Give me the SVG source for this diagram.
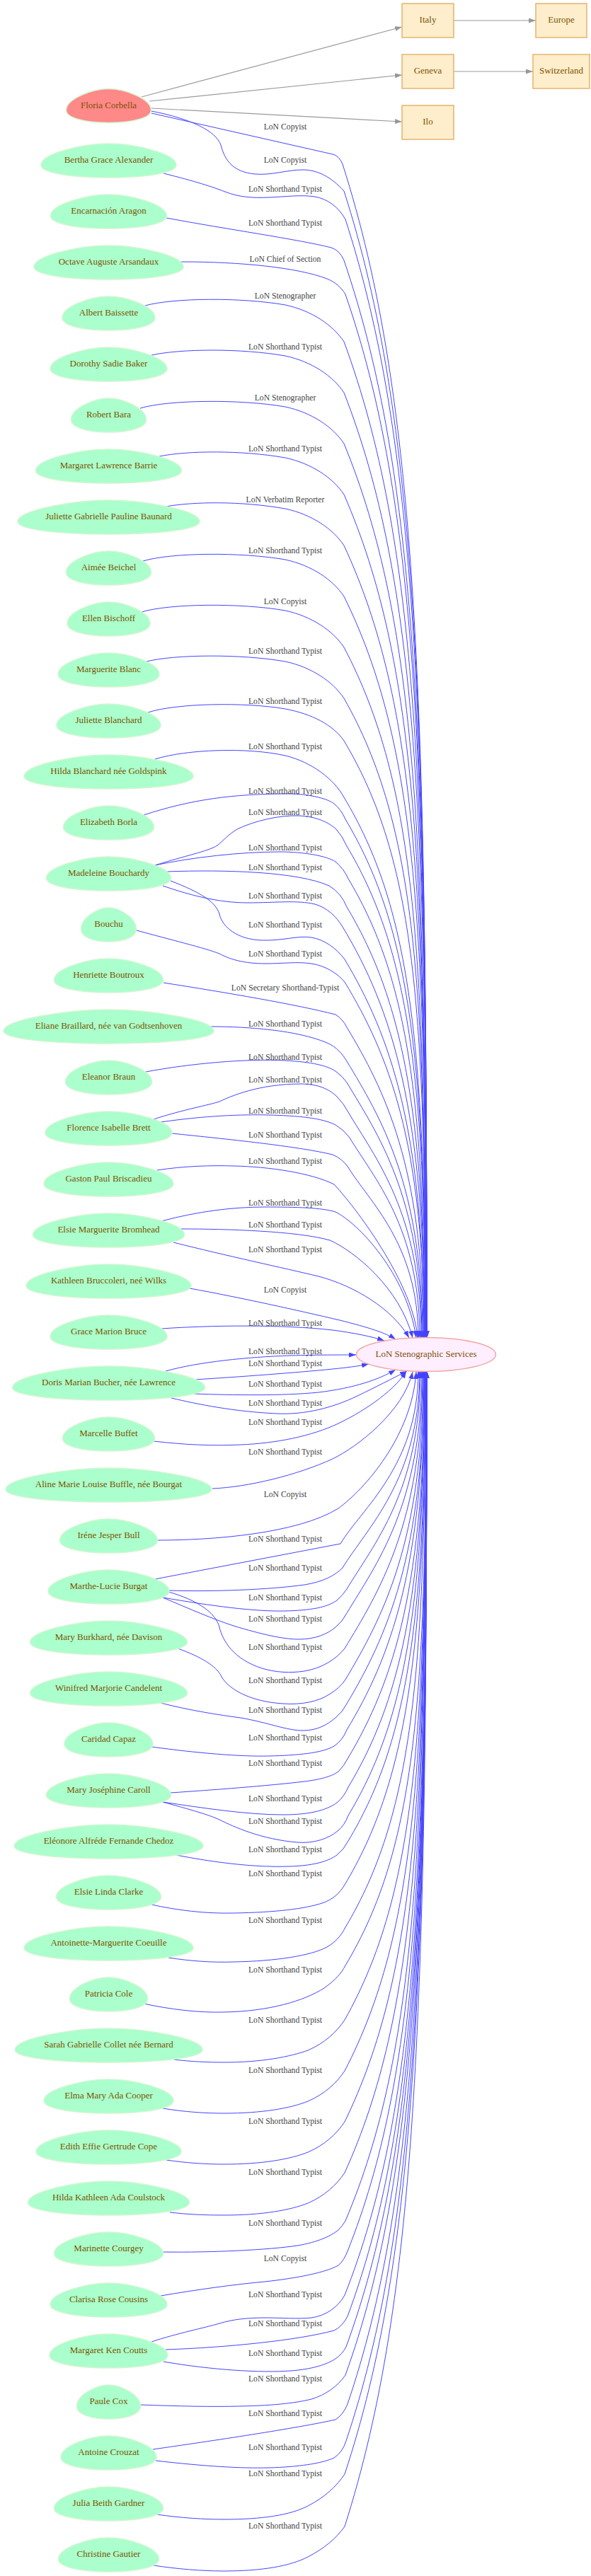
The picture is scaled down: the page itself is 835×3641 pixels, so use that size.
<svg xmlns="http://www.w3.org/2000/svg" xmlns:xlink="http://www.w3.org/1999/xlink" width="835" height="3641" viewBox="0 0 835 3641">
<style>
.egg{fill:#aaffcc;stroke:#d4f5d2;stroke-width:1.5}
.fl{fill:#ff8888}
.nt{font-family:"Liberation Serif","Times New Roman",serif;font-size:13px;fill:#7b5200;text-anchor:middle}
.lb{font-family:"Liberation Serif","Times New Roman",serif;font-size:11.7px;fill:#444444;text-anchor:middle}
.be{fill:none;stroke:#4444ff;stroke-width:1;marker-end:url(#ab)}
.ge{fill:none;stroke:#999999;stroke-width:1.2;marker-end:url(#ag)}
.box{fill:#ffeecc;stroke:#e6b36e;stroke-width:1.5}
</style>
<defs>
<path id="egg" vector-effect="non-scaling-stroke" d="M1,0.26 C1,0.696 0.597,1 0,1 C-0.597,1 -1,0.696 -1,0.26 C-1,-0.42 -0.38,-1 0,-1 C0.38,-1 1,-0.42 1,0.26Z"/>
<marker id="ab" viewBox="0 0 10 7" refX="10" refY="3.5" markerWidth="10" markerHeight="7" markerUnits="userSpaceOnUse" orient="auto"><path d="M0,0L10,3.5L0,7z" fill="#4444ff"/></marker>
<marker id="ag" viewBox="0 0 10 7" refX="10" refY="3.5" markerWidth="10" markerHeight="7" markerUnits="userSpaceOnUse" orient="auto"><path d="M0,0L10,3.5L0,7z" fill="#999999"/></marker>
</defs>
<rect width="835" height="3641" fill="#ffffff"/>
<g id="connectors">
<path class="ge" d="M200,137 L568,38"/>
<path class="ge" d="M211,143 L568,106"/>
<path class="ge" d="M214,153 L568,172"/>
<path class="ge" d="M641,29 L757,29"/>
<path class="ge" d="M641,101 L753,101"/>
<path class="be" d="M214,160 L470,218 Q479,220 484,232 C590,564 603,979 603,1891"/>
<path class="be" d="M214,157 C270,168 305,185 312,205 C318,228 330,243 360,246 C385,248 405,240 428,240 C448,240 468,250 486,270 C590,594 603,999 603,1891"/>
<path class="be" d="M231,245 C275,256 300,264 318,271 C338,279 358,280 380,279 C405,278 425,275 445,278 C462,281 478,292 488,310 C590,626 603,1021 603,1891"/>
<path class="be" d="M235,308 C320,324 420,338 468,350 Q480,354 486,368 C590,673 603,1053 603,1891"/>
<path class="be" d="M256,370 C340,370 420,378 462,394 C474,399 482,406 488,416 C590,711 603,1080 603,1891"/>
<path class="be" d="M205,432 C245,421 340,420 403,431 C440,439 470,459 486,483 C590,765 603,1117 603,1891"/>
<path class="be" d="M214,502 C254,493 340,492 403,503 C440,511 470,531 486,555 C590,822 603,1156 603,1891"/>
<path class="be" d="M198,577 C238,565 340,564 403,575 C440,583 470,603 486,627 C590,880 602,1196 602,1891"/>
<path class="be" d="M225,645 C265,637 340,636 403,647 C440,655 470,675 486,699 C590,937 602,1235 602,1891"/>
<path class="be" d="M234,716 C274,709 340,708 403,719 C440,727 470,747 486,771 C590,995 602,1275 602,1891"/>
<path class="be" d="M202,793 C242,781 340,780 403,791 C440,799 470,819 486,843 C590,1053 602,1315 602,1891"/>
<path class="be" d="M200,865 C240,853 340,852 403,863 C440,871 470,891 486,915 C589,1110 601,1354 601,1891"/>
<path class="be" d="M207,935 C247,925 340,924 403,935 C440,943 470,963 486,987 C589,1168 601,1394 601,1891"/>
<path class="be" d="M209,1007 C249,994 345,992 403,1002 C440,1009 470,1024 486,1047 C587,1216 601,1427 601,1891"/>
<path class="be" d="M219,1073 C264,1059 350,1056 403,1068 C440,1077 472,1101 486,1127 C578,1280 601,1471 601,1891"/>
<path class="be" d="M203,1152 C270,1130 330,1122 406,1122 C440,1122 465,1130 472,1136 Q482,1144 488,1158 C576,1305 601,1488 601,1891"/>
<path class="be" d="M219,1223 C260,1210 295,1203 307,1195 C318,1186 322,1180 335,1172 C360,1160 395,1152 422,1153 C448,1154 465,1163 475,1172 Q484,1182 490,1196 C573,1335 601,1509 601,1891"/>
<path class="be" d="M219,1223 C270,1212 340,1204 395,1204 C430,1204 462,1210 474,1218 Q486,1228 492,1242 C570,1372 600,1534 600,1891"/>
<path class="be" d="M235,1232 C320,1229 420,1232 465,1252 Q482,1262 490,1282 C563,1404 600,1556 600,1891"/>
<path class="be" d="M230,1252 C270,1266 310,1276 350,1276 C390,1276 420,1272 445,1278 C462,1283 475,1295 484,1310 C554,1426 600,1571 600,1891"/>
<path class="be" d="M241,1245 C285,1262 305,1275 310,1292 C314,1310 335,1328 370,1329 C400,1330 420,1322 440,1325 C458,1328 475,1340 487,1356 C551,1463 599,1597 599,1891"/>
<path class="be" d="M193,1315 C240,1328 290,1340 310,1348 C325,1356 345,1362 375,1362 C400,1362 420,1359 440,1362 C460,1365 477,1376 487,1388 C548,1489 599,1614 599,1891"/>
<path class="be" d="M231,1389 C320,1403 420,1420 474,1434 Q484,1440 490,1452 C543,1540 598,1650 598,1891"/>
<path class="be" d="M297,1451 C350,1451 420,1456 462,1474 C476,1480 484,1490 490,1500 C537,1578 597,1676 597,1891"/>
<path class="be" d="M206,1515 C270,1503 350,1496 403,1499 C440,1501 462,1506 474,1514 Q484,1521 490,1530 C533,1602 596,1692 596,1891"/>
<path class="be" d="M217,1582 C260,1568 295,1562 310,1557 C325,1550 365,1532 425,1532 C450,1532 466,1540 476,1550 Q486,1560 492,1572 C530,1636 595,1716 595,1891"/>
<path class="be" d="M227,1586 C290,1577 340,1575 380,1576 C420,1577 455,1580 474,1590 Q486,1597 494,1608 C528,1665 593,1735 593,1891"/>
<path class="be" d="M243,1602 C320,1610 420,1620 470,1632 Q484,1638 492,1650 C521,1698 591,1758 591,1891"/>
<path class="be" d="M222,1654 C260,1648 300,1647 330,1648 C380,1649 440,1658 472,1674 C510,1715 585,1820 590,1891"/>
<path class="be" d="M228,1726 C280,1712 330,1706 374,1706 C420,1706 455,1707 474,1713 C505,1728 575,1800 588,1891"/>
<path class="be" d="M256,1737 C320,1737 420,1740 466,1753 C500,1768 565,1820 583,1891"/>
<path class="be" d="M245,1756 C320,1775 400,1792 450,1804 C500,1817 555,1850 578,1891"/>
<path class="be" d="M268,1821 C340,1834 420,1852 480,1866 C520,1876 545,1884 559,1893"/>
<path class="be" d="M228,1878 C300,1873 400,1872 470,1880 C500,1884 525,1889 543,1895"/>
<path class="be" d="M234,1938 C280,1925 350,1918 410,1916 C450,1915 480,1915 503,1915"/>
<path class="be" d="M275,1950 C340,1946 420,1940 470,1935 C490,1933 506,1931 521,1928"/>
<path class="be" d="M274,1970 C330,1972 400,1973 450,1968 C500,1962 535,1950 559,1936"/>
<path class="be" d="M242,1976 C280,1985 330,1995 390,1998 C430,2000 470,1990 505,1973 C530,1961 555,1948 575,1938"/>
<path class="be" d="M217,2037 C260,2042 300,2044 340,2042 C390,2040 440,2030 478,2012 C520,1992 560,1962 574,1938"/>
<path class="be" d="M300,2104 C350,2102 420,2085 470,2062 C505,2045 570,1995 583,1939"/>
<path class="be" d="M222,2177 C300,2177 420,2168 478,2132 C515,2105 582,2030 588,1939"/>
<path class="be" d="M219,2232 L481,2182 C510,2133 591,2072 591,1938"/>
<path class="be" d="M238,2248 C300,2250 380,2247 430,2240 C455,2236 472,2228 484,2216 C518,2160 593,2091 593,1938"/>
<path class="be" d="M230,2258 C300,2270 360,2278 403,2277 C440,2276 462,2272 476,2262 Q484,2255 490,2246 C527,2184 594,2107 594,1938"/>
<path class="be" d="M230,2258 C270,2275 300,2288 330,2298 C370,2310 400,2317 422,2317 C445,2317 462,2310 474,2300 Q484,2292 490,2280 C531,2212 596,2126 596,1938"/>
<path class="be" d="M238,2250 C280,2262 305,2280 310,2300 C315,2320 330,2345 370,2358 C390,2364 410,2365 430,2362 C455,2358 475,2345 487,2330 C534,2252 597,2154 597,1938"/>
<path class="be" d="M251,2330 C285,2342 305,2355 312,2368 C320,2385 350,2405 400,2408 C425,2410 450,2405 465,2395 Q480,2386 488,2374 C540,2287 598,2178 598,1938"/>
<path class="be" d="M227,2407 C270,2418 310,2424 340,2428 C380,2435 405,2446 428,2446 C448,2446 462,2438 474,2428 Q484,2420 490,2408 C546,2314 599,2197 599,1938"/>
<path class="be" d="M214,2469 C280,2478 340,2483 380,2482 C420,2481 455,2478 472,2468 Q484,2460 490,2445 C551,2344 599,2217 599,1938"/>
<path class="be" d="M241,2534 C300,2530 380,2524 430,2518 C455,2515 470,2510 478,2504 Q486,2496 491,2486 C557,2376 600,2239 600,1938"/>
<path class="be" d="M230,2547 C290,2556 350,2565 400,2565 C440,2565 462,2558 476,2548 Q486,2540 492,2526 C563,2408 600,2261 600,1938"/>
<path class="be" d="M230,2547 C270,2558 295,2565 310,2572 C330,2582 370,2600 420,2604 C445,2606 465,2598 477,2588 Q487,2580 492,2566 C568,2440 600,2283 600,1938"/>
<path class="be" d="M249,2622 C300,2632 360,2640 410,2638 C440,2637 462,2632 476,2622 Q486,2614 492,2602 C572,2469 601,2303 601,1938"/>
<path class="be" d="M214,2692 C250,2700 290,2705 330,2704 C390,2703 430,2698 455,2690 C470,2685 480,2676 487,2664 C574,2519 601,2337 601,1938"/>
<path class="be" d="M238,2767 C270,2772 300,2774 330,2773 C390,2772 440,2764 462,2752 C474,2745 482,2736 488,2724 C582,2567 601,2370 601,1938"/>
<path class="be" d="M203,2832 C240,2840 280,2845 316,2844 C380,2843 430,2828 458,2810 C472,2800 482,2790 488,2778 C589,2610 602,2400 602,1938"/>
<path class="be" d="M246,2911 C270,2914 295,2915 316,2915 C370,2915 410,2907 435,2898 C458,2888 475,2873 487,2855 C590,2672 602,2442 602,1938"/>
<path class="be" d="M230,2980 C260,2985 290,2987 316,2987 C370,2987 410,2980 435,2970 C458,2960 475,2945 487,2927 C590,2729 602,2482 602,1938"/>
<path class="be" d="M235,3053 C262,3057 290,3059 316,3059 C370,3059 410,3052 435,3042 C458,3032 475,3017 487,2999 C590,2787 602,2522 602,1938"/>
<path class="be" d="M240,3127 C265,3130 290,3131 316,3131 C370,3131 410,3124 435,3114 C458,3104 475,3089 487,3071 C590,2844 602,2561 602,1938"/>
<path class="be" d="M231,3183 C300,3184 380,3180 420,3174 C450,3169 468,3160 478,3152 Q484,3146 488,3139 C590,2899 602,2599 602,1938"/>
<path class="be" d="M227,3245 C280,3236 330,3229 374,3225 C420,3220 460,3212 478,3202 Q486,3195 491,3182 C590,2933 603,2622 603,1938"/>
<path class="be" d="M214,3310 C250,3298 290,3290 310,3284 C330,3278 350,3276 375,3276 C400,3276 420,3278 440,3276 C460,3273 477,3262 487,3244 C590,2983 603,2656 603,1938"/>
<path class="be" d="M234,3321 C320,3318 420,3308 472,3294 Q484,3288 491,3274 C590,3007 603,2673 603,1938"/>
<path class="be" d="M231,3338 C300,3350 370,3354 410,3351 C440,3349 462,3342 474,3334 Q484,3327 489,3317 C590,3041 603,2696 603,1938"/>
<path class="be" d="M199,3399 C250,3401 300,3402 340,3401 C390,3400 420,3396 440,3391 C460,3385 477,3373 488,3357 C590,3073 603,2718 603,1938"/>
<path class="be" d="M216,3462 C300,3450 420,3432 474,3420 Q485,3413 491,3398 C590,3106 603,2741 603,1938"/>
<path class="be" d="M220,3478 C290,3486 340,3489 380,3488 C420,3487 455,3482 472,3474 Q484,3466 489,3450 C590,3148 603,2770 603,1938"/>
<path class="be" d="M222,3554 C255,3559 290,3561 316,3561 C370,3561 410,3555 435,3542 C458,3530 475,3515 487,3497 C590,3185 603,2795 603,1938"/>
<path class="be" d="M217,3626 C250,3631 285,3634 316,3634 C370,3634 410,3627 435,3614 C458,3602 475,3588 487,3571 C591,3244 603,2836 603,1938"/>
</g>
<g id="edge-labels">
<text class="lb" x="403" y="182.5">LoN Copyist</text>
<text class="lb" x="403" y="229.5">LoN Copyist</text>
<text class="lb" x="403" y="270.5">LoN Shorthand Typist</text>
<text class="lb" x="403" y="318.5">LoN Shorthand Typist</text>
<text class="lb" x="403" y="369.5">LoN Chief of Section</text>
<text class="lb" x="403" y="421.5">LoN Stenographer</text>
<text class="lb" x="403" y="493.5">LoN Shorthand Typist</text>
<text class="lb" x="403" y="565.5">LoN Stenographer</text>
<text class="lb" x="403" y="637.5">LoN Shorthand Typist</text>
<text class="lb" x="403" y="709.5">LoN Verbatim Reporter</text>
<text class="lb" x="403" y="781.5">LoN Shorthand Typist</text>
<text class="lb" x="403" y="853.5">LoN Copyist</text>
<text class="lb" x="403" y="923.5">LoN Shorthand Typist</text>
<text class="lb" x="403" y="994.5">LoN Shorthand Typist</text>
<text class="lb" x="403" y="1058.5">LoN Shorthand Typist</text>
<text class="lb" x="403" y="1121.5">LoN Shorthand Typist</text>
<text class="lb" x="403" y="1151.5">LoN Shorthand Typist</text>
<text class="lb" x="403" y="1201.5">LoN Shorthand Typist</text>
<text class="lb" x="403" y="1229.5">LoN Shorthand Typist</text>
<text class="lb" x="403" y="1269.5">LoN Shorthand Typist</text>
<text class="lb" x="403" y="1310.5">LoN Shorthand Typist</text>
<text class="lb" x="403" y="1351.5">LoN Shorthand Typist</text>
<text class="lb" x="403" y="1399.5">LoN Secretary Shorthand-Typist</text>
<text class="lb" x="403" y="1450.5">LoN Shorthand Typist</text>
<text class="lb" x="403" y="1497.5">LoN Shorthand Typist</text>
<text class="lb" x="403" y="1529.5">LoN Shorthand Typist</text>
<text class="lb" x="403" y="1573.5">LoN Shorthand Typist</text>
<text class="lb" x="403" y="1607.5">LoN Shorthand Typist</text>
<text class="lb" x="403" y="1644.5">LoN Shorthand Typist</text>
<text class="lb" x="403" y="1703.5">LoN Shorthand Typist</text>
<text class="lb" x="403" y="1734.5">LoN Shorthand Typist</text>
<text class="lb" x="403" y="1769.5">LoN Shorthand Typist</text>
<text class="lb" x="403" y="1826.5">LoN Copyist</text>
<text class="lb" x="403" y="1873.5">LoN Shorthand Typist</text>
<text class="lb" x="403" y="1913.5">LoN Shorthand Typist</text>
<text class="lb" x="403" y="1930.5">LoN Shorthand Typist</text>
<text class="lb" x="403" y="1959.5">LoN Shorthand Typist</text>
<text class="lb" x="403" y="1986.5">LoN Shorthand Typist</text>
<text class="lb" x="403" y="2013.5">LoN Shorthand Typist</text>
<text class="lb" x="403" y="2055.5">LoN Shorthand Typist</text>
<text class="lb" x="403" y="2115.5">LoN Copyist</text>
<text class="lb" x="403" y="2178.5">LoN Shorthand Typist</text>
<text class="lb" x="403" y="2219.5">LoN Shorthand Typist</text>
<text class="lb" x="403" y="2261.5">LoN Shorthand Typist</text>
<text class="lb" x="403" y="2291.5">LoN Shorthand Typist</text>
<text class="lb" x="403" y="2331.5">LoN Shorthand Typist</text>
<text class="lb" x="403" y="2378.5">LoN Shorthand Typist</text>
<text class="lb" x="403" y="2420.5">LoN Shorthand Typist</text>
<text class="lb" x="403" y="2459.5">LoN Shorthand Typist</text>
<text class="lb" x="403" y="2495.5">LoN Shorthand Typist</text>
<text class="lb" x="403" y="2545.5">LoN Shorthand Typist</text>
<text class="lb" x="403" y="2577.5">LoN Shorthand Typist</text>
<text class="lb" x="403" y="2617.5">LoN Shorthand Typist</text>
<text class="lb" x="403" y="2651.5">LoN Shorthand Typist</text>
<text class="lb" x="403" y="2717.5">LoN Shorthand Typist</text>
<text class="lb" x="403" y="2787.5">LoN Shorthand Typist</text>
<text class="lb" x="403" y="2858.5">LoN Shorthand Typist</text>
<text class="lb" x="403" y="2929.5">LoN Shorthand Typist</text>
<text class="lb" x="403" y="3001.5">LoN Shorthand Typist</text>
<text class="lb" x="403" y="3073.5">LoN Shorthand Typist</text>
<text class="lb" x="403" y="3145.5">LoN Shorthand Typist</text>
<text class="lb" x="403" y="3195.5">LoN Copyist</text>
<text class="lb" x="403" y="3246.5">LoN Shorthand Typist</text>
<text class="lb" x="403" y="3287.5">LoN Shorthand Typist</text>
<text class="lb" x="403" y="3329.5">LoN Shorthand Typist</text>
<text class="lb" x="403" y="3365.5">LoN Shorthand Typist</text>
<text class="lb" x="403" y="3414.5">LoN Shorthand Typist</text>
<text class="lb" x="403" y="3462.5">LoN Shorthand Typist</text>
<text class="lb" x="403" y="3499.5">LoN Shorthand Typist</text>
<text class="lb" x="403" y="3573.5">LoN Shorthand Typist</text>
</g>
<g id="place-italy"><rect class="box" x="568" y="5" width="73" height="48"/><text class="nt" x="604.5" y="32">Italy</text></g>
<g id="place-europe"><rect class="box" x="757" y="5" width="72" height="48"/><text class="nt" x="793" y="32">Europe</text></g>
<g id="place-geneva"><rect class="box" x="568" y="77" width="73" height="48"/><text class="nt" x="604.5" y="104">Geneva</text></g>
<g id="place-switzerland"><rect class="box" x="753" y="77" width="80" height="48"/><text class="nt" x="793" y="104">Switzerland</text></g>
<g id="place-ilo"><rect class="box" x="568" y="149" width="73" height="48"/><text class="nt" x="604.5" y="176">Ilo</text></g>
<g id="target"><ellipse cx="602" cy="1914.5" rx="98.5" ry="24" fill="#ffeeff" stroke="#f0a8a8" stroke-width="1.5"/><text class="nt" x="602" y="1917.5">LoN Stenographic Services</text></g>
<g id="n01"><use href="#egg" xlink:href="#egg" class="egg fl" transform="translate(153.5,149.5) scale(60,24)"/><text class="nt" x="153.5" y="152.5">Floria Corbella</text></g>
<g id="n02"><use href="#egg" xlink:href="#egg" class="egg" transform="translate(153.5,227) scale(95.5,24)"/><text class="nt" x="153.5" y="230">Bertha Grace Alexander</text></g>
<g id="n03"><use href="#egg" xlink:href="#egg" class="egg" transform="translate(153.5,299) scale(82,24)"/><text class="nt" x="153.5" y="302">Encarnación Aragon</text></g>
<g id="n04"><use href="#egg" xlink:href="#egg" class="egg" transform="translate(153.5,371) scale(105.5,24)"/><text class="nt" x="153.5" y="374">Octave Auguste Arsandaux</text></g>
<g id="n05"><use href="#egg" xlink:href="#egg" class="egg" transform="translate(153.5,443) scale(65.5,24)"/><text class="nt" x="153.5" y="446">Albert Baissette</text></g>
<g id="n06"><use href="#egg" xlink:href="#egg" class="egg" transform="translate(153.5,515) scale(82.5,24)"/><text class="nt" x="153.5" y="518">Dorothy Sadie Baker</text></g>
<g id="n07"><use href="#egg" xlink:href="#egg" class="egg" transform="translate(153.5,587) scale(53,24)"/><text class="nt" x="153.5" y="590">Robert Bara</text></g>
<g id="n08"><use href="#egg" xlink:href="#egg" class="egg" transform="translate(153.5,659) scale(103,24)"/><text class="nt" x="153.5" y="662">Margaret Lawrence Barrie</text></g>
<g id="n09"><use href="#egg" xlink:href="#egg" class="egg" transform="translate(153.5,731) scale(128.5,24)"/><text class="nt" x="153.5" y="734">Juliette Gabrielle Pauline Baunard</text></g>
<g id="n10"><use href="#egg" xlink:href="#egg" class="egg" transform="translate(153.5,803) scale(60,24)"/><text class="nt" x="153.5" y="806">Aimée Beichel</text></g>
<g id="n11"><use href="#egg" xlink:href="#egg" class="egg" transform="translate(153.5,875) scale(58.5,24)"/><text class="nt" x="153.5" y="878">Ellen Bischoff</text></g>
<g id="n12"><use href="#egg" xlink:href="#egg" class="egg" transform="translate(153.5,947) scale(71.5,24)"/><text class="nt" x="153.5" y="950">Marguerite Blanc</text></g>
<g id="n13"><use href="#egg" xlink:href="#egg" class="egg" transform="translate(153.5,1019) scale(73.5,24)"/><text class="nt" x="153.5" y="1022">Juliette Blanchard</text></g>
<g id="n14"><use href="#egg" xlink:href="#egg" class="egg" transform="translate(153.5,1091) scale(119.5,24)"/><text class="nt" x="153.5" y="1094">Hilda Blanchard née Goldspink</text></g>
<g id="n15"><use href="#egg" xlink:href="#egg" class="egg" transform="translate(153.5,1163) scale(64,24)"/><text class="nt" x="153.5" y="1166">Elizabeth Borla</text></g>
<g id="n16"><use href="#egg" xlink:href="#egg" class="egg" transform="translate(153.5,1235) scale(88,24)"/><text class="nt" x="153.5" y="1238">Madeleine Bouchardy</text></g>
<g id="n17"><use href="#egg" xlink:href="#egg" class="egg" transform="translate(153.5,1307) scale(39,24)"/><text class="nt" x="153.5" y="1310">Bouchu</text></g>
<g id="n18"><use href="#egg" xlink:href="#egg" class="egg" transform="translate(153.5,1379) scale(77,24)"/><text class="nt" x="153.5" y="1382">Henriette Boutroux</text></g>
<g id="n19"><use href="#egg" xlink:href="#egg" class="egg" transform="translate(153.5,1451) scale(148.5,24)"/><text class="nt" x="153.5" y="1454">Eliane Braillard, née van Godtsenhoven</text></g>
<g id="n20"><use href="#egg" xlink:href="#egg" class="egg" transform="translate(153.5,1523) scale(61,24)"/><text class="nt" x="153.5" y="1526">Eleanor Braun</text></g>
<g id="n21"><use href="#egg" xlink:href="#egg" class="egg" transform="translate(153.5,1595) scale(89.5,24)"/><text class="nt" x="153.5" y="1598">Florence Isabelle Brett</text></g>
<g id="n22"><use href="#egg" xlink:href="#egg" class="egg" transform="translate(153.5,1667) scale(91.5,24)"/><text class="nt" x="153.5" y="1670">Gaston Paul Briscadieu</text></g>
<g id="n23"><use href="#egg" xlink:href="#egg" class="egg" transform="translate(153.5,1739) scale(107,24)"/><text class="nt" x="153.5" y="1742">Elsie Marguerite Bromhead</text></g>
<g id="n24"><use href="#egg" xlink:href="#egg" class="egg" transform="translate(153.5,1811) scale(116.5,24)"/><text class="nt" x="153.5" y="1814">Kathleen Bruccoleri, neé Wilks</text></g>
<g id="n25"><use href="#egg" xlink:href="#egg" class="egg" transform="translate(153.5,1883) scale(82.5,24)"/><text class="nt" x="153.5" y="1886">Grace Marion Bruce</text></g>
<g id="n26"><use href="#egg" xlink:href="#egg" class="egg" transform="translate(153.5,1955) scale(136,24)"/><text class="nt" x="153.5" y="1958">Doris Marian Bucher, née Lawrence</text></g>
<g id="n27"><use href="#egg" xlink:href="#egg" class="egg" transform="translate(153.5,2027) scale(65,24)"/><text class="nt" x="153.5" y="2030">Marcelle Buffet</text></g>
<g id="n28"><use href="#egg" xlink:href="#egg" class="egg" transform="translate(153.5,2099) scale(145.5,24)"/><text class="nt" x="153.5" y="2102">Aline Marie Louise Buffle, née Bourgat</text></g>
<g id="n29"><use href="#egg" xlink:href="#egg" class="egg" transform="translate(153.5,2171) scale(69,24)"/><text class="nt" x="153.5" y="2174">Iréne Jesper Bull</text></g>
<g id="n30"><use href="#egg" xlink:href="#egg" class="egg" transform="translate(153.5,2243) scale(85.5,24)"/><text class="nt" x="153.5" y="2246">Marthe-Lucie Burgat</text></g>
<g id="n31"><use href="#egg" xlink:href="#egg" class="egg" transform="translate(153.5,2315) scale(111,24)"/><text class="nt" x="153.5" y="2318">Mary Burkhard, née Davison</text></g>
<g id="n32"><use href="#egg" xlink:href="#egg" class="egg" transform="translate(153.5,2387) scale(111,24)"/><text class="nt" x="153.5" y="2390">Winifred Marjorie Candelent</text></g>
<g id="n33"><use href="#egg" xlink:href="#egg" class="egg" transform="translate(153.5,2459) scale(62.5,24)"/><text class="nt" x="153.5" y="2462">Caridad Capaz</text></g>
<g id="n34"><use href="#egg" xlink:href="#egg" class="egg" transform="translate(153.5,2531) scale(88,24)"/><text class="nt" x="153.5" y="2534">Mary Joséphine Caroll</text></g>
<g id="n35"><use href="#egg" xlink:href="#egg" class="egg" transform="translate(153.5,2603) scale(133.5,24)"/><text class="nt" x="153.5" y="2606">Eléonore Alfréde Fernande Chedoz</text></g>
<g id="n36"><use href="#egg" xlink:href="#egg" class="egg" transform="translate(153.5,2675) scale(74,24)"/><text class="nt" x="153.5" y="2678">Elsie Linda Clarke</text></g>
<g id="n37"><use href="#egg" xlink:href="#egg" class="egg" transform="translate(153.5,2747) scale(119.5,24)"/><text class="nt" x="153.5" y="2750">Antoinette-Marguerite Coeuille</text></g>
<g id="n38"><use href="#egg" xlink:href="#egg" class="egg" transform="translate(153.5,2819) scale(55,24)"/><text class="nt" x="153.5" y="2822">Patricia Cole</text></g>
<g id="n39"><use href="#egg" xlink:href="#egg" class="egg" transform="translate(153.5,2891) scale(132.5,24)"/><text class="nt" x="153.5" y="2894">Sarah Gabrielle Collet née Bernard</text></g>
<g id="n40"><use href="#egg" xlink:href="#egg" class="egg" transform="translate(153.5,2963) scale(91.5,24)"/><text class="nt" x="153.5" y="2966">Elma Mary Ada Cooper</text></g>
<g id="n41"><use href="#egg" xlink:href="#egg" class="egg" transform="translate(153.5,3035) scale(102.5,24)"/><text class="nt" x="153.5" y="3038">Edith Effie Gertrude Cope</text></g>
<g id="n42"><use href="#egg" xlink:href="#egg" class="egg" transform="translate(153.5,3107) scale(114,24)"/><text class="nt" x="153.5" y="3110">Hilda Kathleen Ada Coulstock</text></g>
<g id="n43"><use href="#egg" xlink:href="#egg" class="egg" transform="translate(153.5,3179) scale(77,24)"/><text class="nt" x="153.5" y="3182">Marinette Courgey</text></g>
<g id="n44"><use href="#egg" xlink:href="#egg" class="egg" transform="translate(153.5,3251) scale(82.5,24)"/><text class="nt" x="153.5" y="3254">Clarisa Rose Cousins</text></g>
<g id="n45"><use href="#egg" xlink:href="#egg" class="egg" transform="translate(153.5,3323) scale(83.5,24)"/><text class="nt" x="153.5" y="3326">Margaret Ken Coutts</text></g>
<g id="n46"><use href="#egg" xlink:href="#egg" class="egg" transform="translate(153.5,3395) scale(45,24)"/><text class="nt" x="153.5" y="3398">Paule Cox</text></g>
<g id="n47"><use href="#egg" xlink:href="#egg" class="egg" transform="translate(153.5,3467) scale(67.5,24)"/><text class="nt" x="153.5" y="3470">Antoine Crouzat</text></g>
<g id="n48"><use href="#egg" xlink:href="#egg" class="egg" transform="translate(153.5,3539) scale(77,24)"/><text class="nt" x="153.5" y="3542">Julia Beith Gardner</text></g>
<g id="n49"><use href="#egg" xlink:href="#egg" class="egg" transform="translate(153.5,3611) scale(71,24)"/><text class="nt" x="153.5" y="3614">Christine Gautier</text></g>
</svg>
